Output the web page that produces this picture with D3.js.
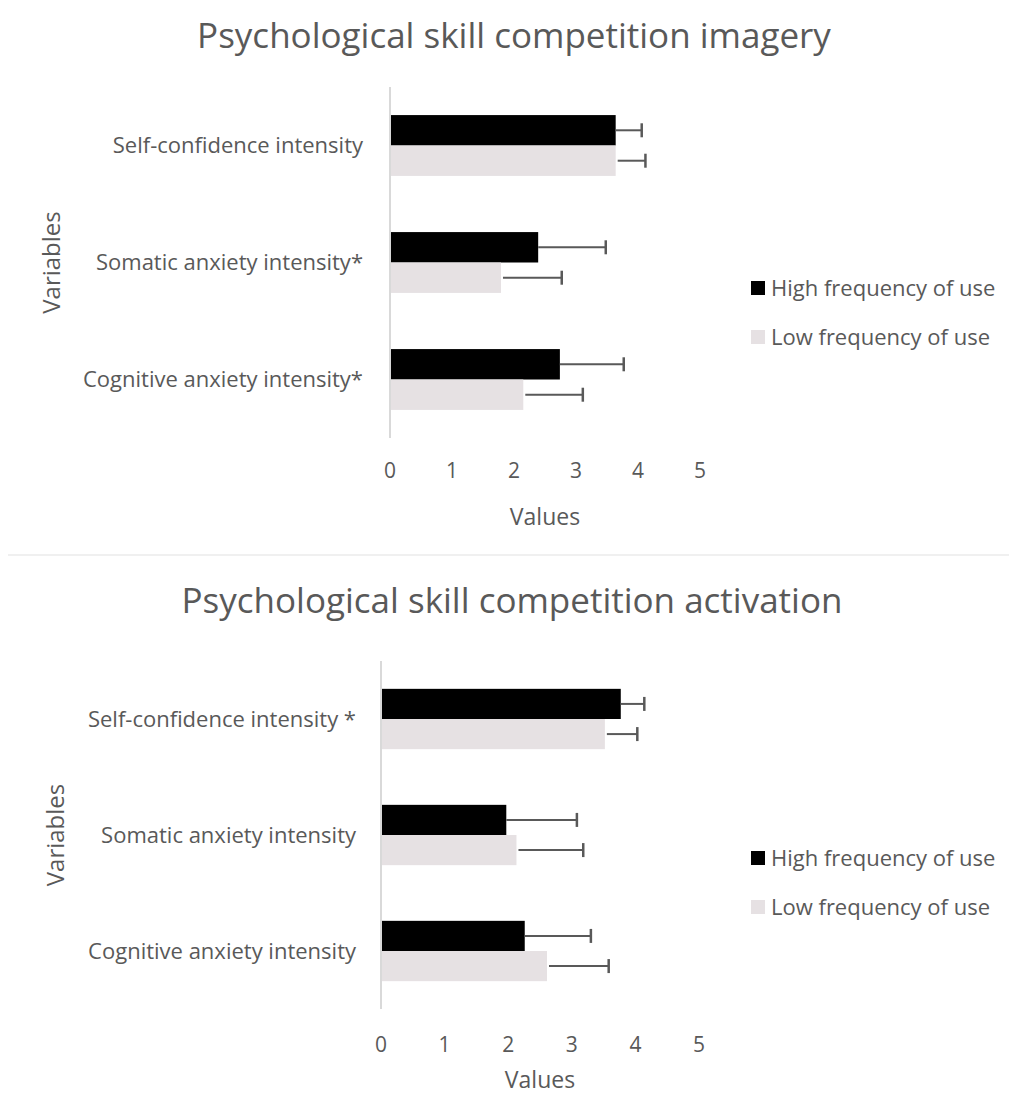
<!DOCTYPE html>
<html lang="en">
  <head>
    <meta charset="UTF-8" />
    <title>Psychological skill competition</title>
    <style>
      body { margin: 0; background: #fff; }
      text { font-family: "Open Sans", sans-serif; fill: #595959; }
    </style>
  </head>
  <body>
    <script src="https://cdn.jsdelivr.net/npm/d3@7"></script>
    <script>
      // data
      var seriesNames = ["High frequency of use", "Low frequency of use"];
      var tickValues = [0, 1, 2, 3, 4, 5];

      var imageryCategories = ["Self-confidence intensity", "Somatic anxiety intensity*", "Cognitive anxiety intensity*"];
      var imageryHigh = [3.64, 2.39, 2.74];
      var imageryHighErr = [0.42, 1.09, 1.03];
      var imageryLow = [3.64, 1.79, 2.15];
      var imageryLowErr = [0.48, 0.98, 0.96];

      var activationCategories = ["Self-confidence intensity *", "Somatic anxiety intensity", "Cognitive anxiety intensity"];
      var activationHigh = [3.77, 1.97, 2.26];
      var activationHighErr = [0.37, 1.11, 1.04];
      var activationLow = [3.52, 2.13, 2.61];
      var activationLowErr = [0.51, 1.05, 0.97];

      var colors = ["#000000", "#e6e1e3"];

      var w = 1009, h = 1097;

      var svg = d3.select("body")
                  .append("svg")
                  .attr("width", w)
                  .attr("height", h);

      // faint divider between the two pictures
      svg.append("line")
         .attr("x1", 8).attr("x2", w)
         .attr("y1", 555).attr("y2", 555)
         .attr("stroke", "#f0f0f0")
         .attr("stroke-width", 2);

      function drawChart(opt) {
        var g = svg.append("g");

        var xScale = d3.scaleLinear()
                       .domain([0, 5])
                       .range([opt.x0, opt.x1]);

        var yScale = d3.scaleBand()
                       .domain(opt.categories)
                       .range([opt.y0, opt.y1])
                       .paddingInner(0.48)
                       .paddingOuter(0.24);

        var sub = d3.scaleBand()
                    .domain([0, 1])
                    .range([0, yScale.bandwidth()]);

        g.append("text")
         .attr("x", opt.titleX)
         .attr("y", opt.titleY)
         .attr("text-anchor", "middle")
         .style("font-size", "35px")
         .text(opt.title);

        var rows = opt.categories.map(function(c, i) {
          return {
            cat: c,
            vals: [
              { s: 0, v: opt.high[i], e: opt.highErr[i] },
              { s: 1, v: opt.low[i], e: opt.lowErr[i] }
            ]
          };
        });

        var grp = g.selectAll(".row")
                   .data(rows)
                   .enter()
                   .append("g")
                   .attr("transform", function(d) { return "translate(0," + yScale(d.cat) + ")"; });

        grp.selectAll("rect")
           .data(function(d) { return d.vals; })
           .enter()
           .append("rect")
           .attr("x", xScale(0))
           .attr("y", function(d) { return sub(d.s); })
           .attr("width", function(d) { return xScale(d.v) - xScale(0); })
           .attr("height", sub.bandwidth())
           .attr("fill", function(d) { return colors[d.s]; });

        // error bars
        grp.selectAll(".err")
           .data(function(d) { return d.vals; })
           .enter()
           .append("line")
           .attr("x1", function(d) { return xScale(d.v) + (d.s == 1 ? 2 : 0); })
           .attr("x2", function(d) { return xScale(d.v + d.e); })
           .attr("y1", function(d) { return sub(d.s) + sub.bandwidth() / 2; })
           .attr("y2", function(d) { return sub(d.s) + sub.bandwidth() / 2; })
           .attr("stroke", "#595959")
           .attr("stroke-width", 2);

        grp.selectAll(".cap")
           .data(function(d) { return d.vals; })
           .enter()
           .append("line")
           .attr("x1", function(d) { return xScale(d.v + d.e); })
           .attr("x2", function(d) { return xScale(d.v + d.e); })
           .attr("y1", function(d) { return sub(d.s) + sub.bandwidth() / 2 - 7; })
           .attr("y2", function(d) { return sub(d.s) + sub.bandwidth() / 2 + 7; })
           .attr("stroke", "#595959")
           .attr("stroke-width", 2.5);

        // category axis line
        g.append("line")
         .attr("x1", xScale(0)).attr("x2", xScale(0))
         .attr("y1", opt.y0).attr("y2", opt.y1)
         .attr("stroke", "#d9d9d9")
         .attr("stroke-width", 2);

        g.selectAll(".cat")
         .data(opt.categories)
         .enter()
         .append("text")
         .attr("x", opt.labelX)
         .attr("y", function(d) { return yScale(d) + yScale.bandwidth() / 2; })
         .attr("dy", "0.35em")
         .attr("text-anchor", "end")
         .style("font-size", "22px")
         .text(function(d) { return d; });

        g.selectAll(".tick")
         .data(tickValues)
         .enter()
         .append("text")
         .attr("x", function(d) { return xScale(d); })
         .attr("y", opt.tickY)
         .attr("text-anchor", "middle")
         .style("font-size", "21px")
         .text(function(d) { return d; });

        g.append("text")
         .attr("x", (xScale(0) + xScale(5)) / 2)
         .attr("y", opt.xTitleY)
         .attr("text-anchor", "middle")
         .style("font-size", "23px")
         .text("Values");

        g.append("text")
         .attr("transform", "translate(" + opt.yTitleX + "," + (opt.y0 + opt.y1) / 2 + ") rotate(-90)")
         .attr("text-anchor", "middle")
         .style("font-size", "24px")
         .text("Variables");

        // legend
        var leg = g.selectAll(".leg")
                   .data(seriesNames)
                   .enter()
                   .append("g")
                   .attr("transform", function(d, i) { return "translate(751," + (opt.legendY + i * 49) + ")"; });

        leg.append("rect")
           .attr("x", 0).attr("y", -7)
           .attr("width", 14).attr("height", 14)
           .attr("fill", function(d, i) { return colors[i]; });

        leg.append("text")
           .attr("x", 20)
           .attr("dy", "0.35em")
           .style("font-size", "22px")
           .text(function(d) { return d; });
      }

      drawChart({
        title: "Psychological skill competition imagery",
        titleX: 514, titleY: 48,
        categories: imageryCategories,
        high: imageryHigh, highErr: imageryHighErr,
        low: imageryLow, lowErr: imageryLowErr,
        x0: 390, x1: 700, y0: 87, y1: 438,
        labelX: 363, tickY: 478, xTitleY: 525, yTitleX: 60,
        legendY: 288
      });

      drawChart({
        title: "Psychological skill competition activation",
        titleX: 512, titleY: 613,
        categories: activationCategories,
        high: activationHigh, highErr: activationHighErr,
        low: activationLow, lowErr: activationLowErr,
        x0: 381, x1: 699, y0: 661, y1: 1009,
        labelX: 356, tickY: 1052, xTitleY: 1088, yTitleX: 64,
        legendY: 858
      });
    </script>
  </body>
</html>
